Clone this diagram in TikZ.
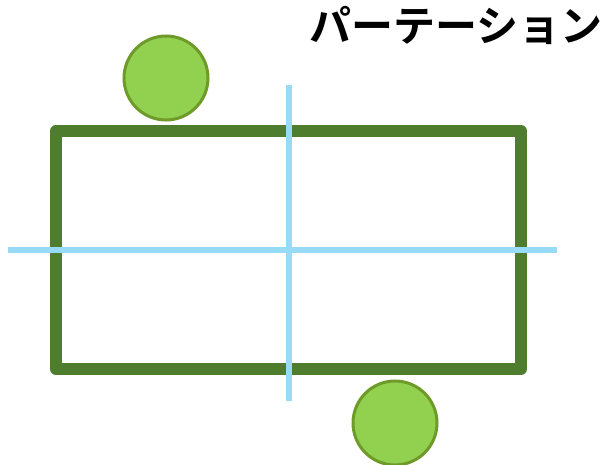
\documentclass[tikz,border=0pt]{standalone}
\usepackage{fontspec}
\newfontfamily\jp{Noto Sans CJK JP}[BoldFont={Noto Sans CJK JP Bold}]
\definecolor{rectgreen}{HTML}{4E7D2D}
\definecolor{circfill}{HTML}{92D050}
\definecolor{circline}{HTML}{6E9A2A}
\definecolor{lineblue}{HTML}{97DBF7}
\tikzset{
  partition/.style={draw=rectgreen, line width=12pt, line join=round},
  ball/.style={circle, draw=circline, fill=circfill, line width=3pt, minimum size=84pt, inner sep=0pt},
  axis/.style={draw=lineblue, line width=6pt},
  title/.style={font=\jp\bfseries\fontsize{42}{48}\selectfont, inner sep=0pt, anchor=center}
}
\begin{document}
\begin{tikzpicture}[x=1pt,y=-1pt]
\useasboundingbox (0,0) rectangle (608,465);
\draw[partition] (56,131) rectangle (521,369);
\coordinate (vt) at (289,85);
\coordinate (vb) at (289,401);
\coordinate (hl) at (8,250);
\coordinate (hr) at (557,250);
\draw[axis] (vt) -- (vb);
\draw[axis] (hl) -- (hr);
\node[ball] (b1) at (166,78) {};
\node[ball] (b2) at (395,423) {};
\node[title] (t) at (456,25) {パーテーション};
\end{tikzpicture}
\end{document}
